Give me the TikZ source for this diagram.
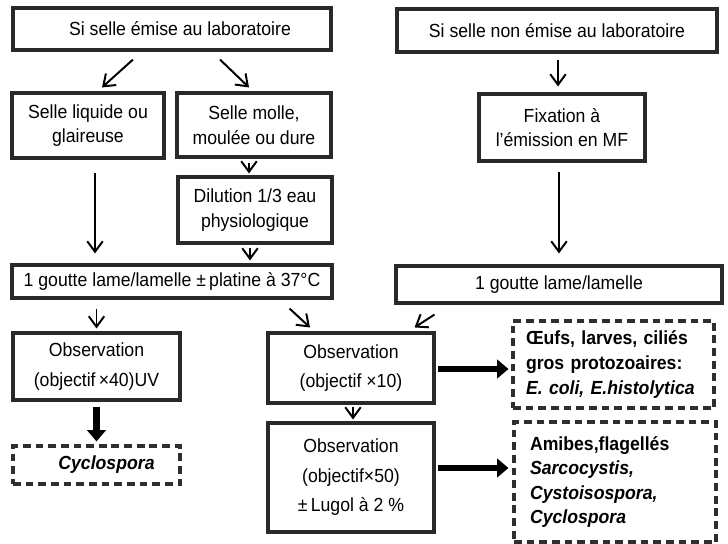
\documentclass[tikz,border=0pt]{standalone}
\usepackage{fontspec}
\setmainfont[FakeStretch=0.93]{Liberation Sans}
\usepackage{xcolor}
\definecolor{boxbd}{rgb}{0.16,0.16,0.16}
\definecolor{resultbd}{rgb}{0.18,0.18,0.18}
\usetikzlibrary{arrows.meta, calc}
\newdimen\px
\px=0.025cm

\begin{document}
\begin{tikzpicture}[
  x=0.025cm, y=-0.025cm,
  stepbox/.style={draw=boxbd, line width=2.2pt, inner sep=1pt, align=center,
              font=\fontsize{13.5}{17.5}\selectfont},
  obsbox/.style={stepbox, font=\fontsize{13.5}{21}\selectfont},
  resultbox/.style={draw=resultbd, line width=2.2pt, dash pattern=on 5.5pt off 3.5pt,
              align=left, font=\fontsize{13.5}{17.5}\selectfont\bfseries},
  arr/.style={-{Straight Barb[length=7.5pt, width=11pt]}, line width=1.4pt},
  bigarr/.style={-{Triangle[length=8pt, width=13pt]}, line width=4.5pt},
]
\fill[white] (0,0) rectangle (728,544);
\useasboundingbox (0,0) rectangle (728,544);

% Top row
\node[stepbox, minimum width=318\px, minimum height=42\px] (emise) at (172,29) {\hspace*{16\px}Si selle émise au laboratoire};
\node[stepbox, minimum width=320\px, minimum height=43\px] (nonemise) at (557,30.5) {Si selle non émise au laboratoire};

% Preparation of the sample
\node[stepbox, minimum width=152\px, minimum height=65\px] (liquide) at (88,125.5) {Selle liquide ou\\glaireuse};
\node[stepbox, minimum width=154\px, minimum height=64\px] (molle) at (254,125) {Selle molle,\\moulée ou dure};
\node[stepbox, minimum width=166\px, minimum height=67\px] (fixation) at (562,127.5) {Fixation à\\l’émission en MF};
\node[stepbox, minimum width=154\px, minimum height=66\px] (dilution) at (255,210) {Dilution 1/3 eau\\physiologique};

% Drops on slides
\node[stepbox, minimum width=320\px, minimum height=33\px] (goutteA) at (172,281.5) {1 goutte lame/lamelle ±\,platine à 37°C};
\node[stepbox, minimum width=326\px, minimum height=37\px] (goutteB) at (559,284.5) {1 goutte lame/lamelle};

% Observations
\node[obsbox, minimum width=167\px, minimum height=67\px] (obsUV) at (96.5,366.5) {Observation\\(objectif\,×40)UV};
\node[obsbox, minimum width=166\px, minimum height=70\px] (obsX10) at (351,368) {Observation\\(objectif ×10)};
\node[obsbox, minimum width=166\px, minimum height=109\px] (obsX50) at (351,477.5) {Observation\\(objectif×50)\\±\,Lugol à 2 \%};

% Results
\node[resultbox, align=center, minimum width=167\px, minimum height=38\px] (cyclo) at (96.5,465) {\hspace*{20\px}\textit{Cyclospora}};
\node[resultbox, inner xsep=13\px, text width=175\px, minimum height=87\px] (oeufs) at (613.5,364.5)
  {Œufs, larves, ciliés\\gros protozoaires:\\\textit{E. coli, E.histolytica}};
\node[resultbox, inner xsep=16\px, text width=170\px, minimum height=120\px] (amibes) at (615,482)
  {Amibes,flagellés\\\textit{Sarcocystis,}\\\textit{Cystoisospora,}\\\textit{Cyclospora}};

% Arrows
\draw[arr] ($(emise.south)+(-39,8)$) -- ($(liquide.north)+(14,-4)$);
\draw[arr] ($(emise.south)+(48,8)$) -- ($(molle.north)+(-5,-4)$);
\draw[arr] ($(nonemise.south)+(1,6)$) -- ($(fixation.north)+(-4,-6)$);
\draw[arr] ($(molle.south)+(-5,4)$) -- ($(dilution.north)+(-6,-2)$);
\draw[arr] ($(liquide.south)+(7,13)$) -- ($(liquide.south |- goutteA.north)+(7,-10)$);
\draw[arr] ($(dilution.south)+(-5,3)$) -- ($(dilution.south |- goutteA.north)+(-5,-3)$);
\draw[arr] ($(fixation.south)+(-3,9)$) -- ($(fixation.south |- goutteB.north)+(-3,-11)$);
\draw[arr] ($(obsUV.north |- goutteA.south)+(0,9)$) -- ($(obsUV.north)+(0,-3)$);
\draw[arr] ($(goutteA.south east)+(-44,9)$) -- ($(obsX10.north)+(-41,-4)$);
\draw[arr] ($(goutteB.south west)+(40,10)$) -- ($(obsX10.north east)+(-21,-4)$);
\draw[arr] ($(obsX10.south)+(2,2)$) -- ($(obsX50.north)+(2,-2)$);

% Thick arrows to the results
\draw[bigarr] ($(obsUV.south)+(0,5)$) -- ($(cyclo.north)+(0,-3)$);
\draw[bigarr] ($(obsX10.east)+(2,1)$) -- ($(obsX10.east -| oeufs.west)+(-3,1)$);
\draw[bigarr] ($(obsX50.east)+(2,-9.5)$) -- ($(obsX50.east -| amibes.west)+(-4,-9.5)$);
\end{tikzpicture}
\end{document}
